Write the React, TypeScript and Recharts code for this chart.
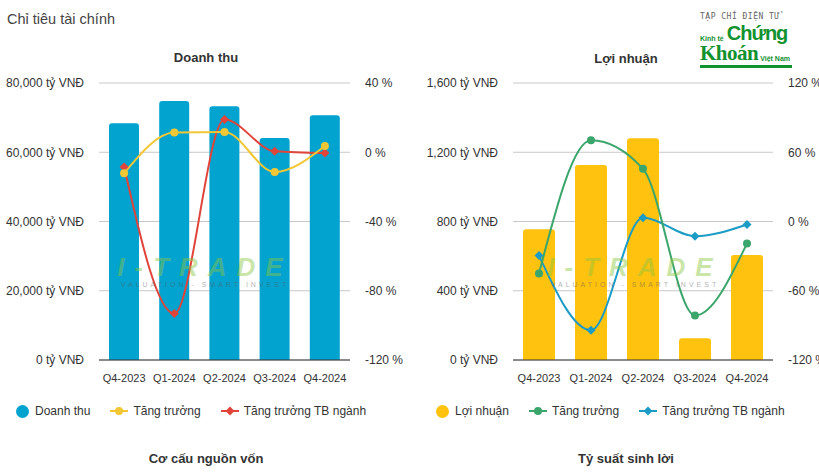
import React from 'react';
import { ComposedChart, Bar, Line, XAxis, YAxis, CartesianGrid } from 'recharts';

const quarters = ['Q4-2023', 'Q1-2024', 'Q2-2024', 'Q3-2024', 'Q4-2024'];
const revenue = [68400, 74800, 73300, 64100, 70700];
const revenueGrowth = [-12.1, 11.4, 11.7, -11.4, 3.6];
const revenueIndustry = [-8.5, -93.2, 18.9, 0.6, -0.4];
const profit = [755, 1126, 1281, 125, 606];
const profitGrowth = [-45, 70.4, 45.6, -81.4, -19];
const profitIndustry = [-29.5, -94.2, 3.2, -12.7, -2.6];

const revTicks = [0, 20000, 40000, 60000, 80000];
const revPctTicks = [-120, -80, -40, 0, 40];
const profTicks = [0, 400, 800, 1200, 1600];
const profPctTicks = [-120, -60, 0, 60, 120];

const revData = quarters.map((q, i) => ({ q, v: revenue[i], g: revenueGrowth[i], t: revenueIndustry[i] }));
const profData = quarters.map((q, i) => ({ q, v: profit[i], g: profitGrowth[i], t: profitIndustry[i] }));

const FONT = 'Arial, "Liberation Sans", sans-serif';
const fmtVnd = (v: number) => `${v.toLocaleString('en-US')} tỷ VNĐ`;
const fmtPct = (v: number) => `${v} %`;

const diamond = (color: string) => (p: any) => {
  const { cx, cy, index } = p;
  if (cx == null || cy == null) return <g key={index} />;
  const r = 4.5;
  return <path key={index} d={`M${cx},${cy - r}L${cx + r},${cy}L${cx},${cy + r}L${cx - r},${cy}Z`} fill={color} />;
};

const makeTick = (fmt: (v: number) => string, anchor: string) => (p: any) => (
  <text x={p.x} y={p.y} dy="0.355em" textAnchor={anchor} fontSize={12} fill="#333" fontFamily={FONT}>
    {fmt(p.payload.value)}
  </text>
);

function Panel({ data, barColor, gColor, tColor, lTicks, rTicks, lw, rw, width, barSize }: any) {
  return (
    <ComposedChart width={width} height={392} data={data} margin={{ top: 83, right: 0, left: 0, bottom: 0 }}>
      <CartesianGrid yAxisId="l" vertical={false} stroke="#c8c8c8" />
      <XAxis dataKey="q" tickLine={false} axisLine={{ stroke: '#333' }} height={32} tickMargin={8}
        tick={{ fontSize: 11, fill: '#333', fontFamily: FONT }} />
      <YAxis yAxisId="l" width={lw} domain={[lTicks[0], lTicks[lTicks.length - 1]]} ticks={lTicks}
        axisLine={false} tickLine={false} tickMargin={9} tick={makeTick(fmtVnd, 'end')} />
      <YAxis yAxisId="r" orientation="right" width={rw} domain={[rTicks[0], rTicks[rTicks.length - 1]]} ticks={rTicks}
        axisLine={false} tickLine={false} tickMargin={9} tick={makeTick(fmtPct, 'start')} />
      <Bar yAxisId="l" dataKey="v" fill={barColor} barSize={barSize} radius={[3, 3, 0, 0]} isAnimationActive={false} />
      <Line yAxisId="r" dataKey="t" type="monotone" stroke={tColor} strokeWidth={2} dot={diamond(tColor)} activeDot={false} isAnimationActive={false} />
      <Line yAxisId="r" dataKey="g" type="monotone" stroke={gColor} strokeWidth={2} dot={{ r: 4, fill: gColor, stroke: gColor, strokeWidth: 0 }} activeDot={false} isAnimationActive={false} />
    </ComposedChart>
  );
}

function LineIcon({ color, shape }: any) {
  return (
    <svg width={18} height={12} style={{ marginRight: 5 }}>
      <line x1={0} y1={6} x2={18} y2={6} stroke={color} strokeWidth={2} />
      {shape === 'circle' ? <circle cx={9} cy={6} r={4} fill={color} /> : <path d="M9,1.5L13.5,6L9,10.5L4.5,6Z" fill={color} />}
    </svg>
  );
}

function LegendRow({ left, items }: any) {
  return (
    <div style={{ position: 'absolute', left, top: 404, display: 'flex', alignItems: 'center', fontSize: 12, color: '#333', fontFamily: FONT, whiteSpace: 'nowrap' }}>
      {items.map((it: any) => (
        <div key={it.name} style={{ display: 'flex', alignItems: 'center', marginRight: 20 }}>
          {it.bar ? <span style={{ width: 13, height: 13, borderRadius: 7, background: it.color, marginRight: 6, display: 'inline-block' }} />
            : <LineIcon color={it.color} shape={it.shape} />}
          <span>{it.name}</span>
        </div>
      ))}
    </div>
  );
}

function Watermark({ left }: any) {
  return (
    <div style={{ position: 'absolute', left, top: 252, width: 200, pointerEvents: 'none', opacity: 0.45, fontFamily: FONT, textAlign: 'center', whiteSpace: 'nowrap' }}>
      <div style={{ fontSize: 26, fontWeight: 700, fontStyle: 'italic', color: '#8cc63f', letterSpacing: 10 }}>I-TRADE</div>
      <div style={{ fontSize: 7, color: '#555', letterSpacing: 3, marginTop: -2 }}>VALUATION - SMART INVEST</div>
    </div>
  );
}

export default function App() {
  const title = { position: 'absolute' as const, fontSize: 13, fontWeight: 700, color: '#333', fontFamily: FONT };
  return (
    <div style={{ position: 'absolute', left: 0, top: 0, width: 819, height: 475, background: '#fff', overflow: 'hidden' }}>
      <div style={{ position: 'absolute', left: 7, top: 11, fontSize: 14.5, color: '#444', fontFamily: FONT }}>Chỉ tiêu tài chính</div>

      <div style={{ position: 'absolute', left: 0, top: 0 }}>
        <Panel data={revData} barColor="#03a3cf" gColor="#f2c736" tColor="#e0443a" lTicks={revTicks} rTicks={revPctTicks} lw={99} rw={60} width={410} barSize={30} />
      </div>
      <div style={{ position: 'absolute', left: 410, top: 0 }}>
        <Panel data={profData} barColor="#ffc20e" gColor="#3ba66b" tColor="#1b9cc6" lTicks={profTicks} rTicks={profPctTicks} lw={103} rw={46} width={409} barSize={32} />
      </div>

      <div style={{ ...title, left: 0, width: 412, top: 50, textAlign: 'center' }}>Doanh thu</div>
      <div style={{ ...title, left: 526, width: 200, top: 51, textAlign: 'center' }}>Lợi nhuận</div>

      <Watermark left={105} />
      <Watermark left={535} />

      <LegendRow left={16} items={[
        { name: 'Doanh thu', color: '#03a3cf', bar: true },
        { name: 'Tăng trưởng', color: '#f2c736', shape: 'circle' },
        { name: 'Tăng trưởng TB ngành', color: '#e0443a', shape: 'diamond' },
      ]} />
      <LegendRow left={436} items={[
        { name: 'Lợi nhuận', color: '#ffc20e', bar: true },
        { name: 'Tăng trưởng', color: '#3ba66b', shape: 'circle' },
        { name: 'Tăng trưởng TB ngành', color: '#1b9cc6', shape: 'diamond' },
      ]} />

      <div style={{ ...title, left: 106, width: 200, top: 451, textAlign: 'center' }}>Cơ cấu nguồn vốn</div>
      <div style={{ ...title, left: 526, width: 200, top: 451, textAlign: 'center' }}>Tỷ suất sinh lời</div>

      <div style={{ position: 'absolute', left: 700, top: 12, width: 92, fontFamily: FONT, color: '#12922f', whiteSpace: 'nowrap' }}>
        <div style={{ fontFamily: '"DejaVu Sans Mono", monospace', fontSize: 8, color: '#666', letterSpacing: 0.5 }}>TẠP CHÍ ĐIỆN TỬ</div>
        <div style={{ display: 'flex', alignItems: 'flex-end', lineHeight: 1, marginTop: 2 }}>
          <span style={{ fontSize: 7, fontWeight: 700, marginRight: 3, marginBottom: 1 }}>Kinh tế</span>
          <span style={{ fontSize: 20, fontWeight: 900, letterSpacing: -1 }}>Chứng</span>
        </div>
        <div style={{ display: 'flex', alignItems: 'flex-end', lineHeight: 1, marginTop: 0 }}>
          <span style={{ fontSize: 21, fontWeight: 700, fontFamily: '"Liberation Serif", serif', letterSpacing: -0.5 }}>Khoán</span>
          <span style={{ fontSize: 7, fontWeight: 700, marginLeft: 2, marginBottom: 2 }}>Việt Nam</span>
        </div>
        <div style={{ height: 3, background: '#12922f', marginTop: 1 }} />
      </div>
    </div>
  );
}
